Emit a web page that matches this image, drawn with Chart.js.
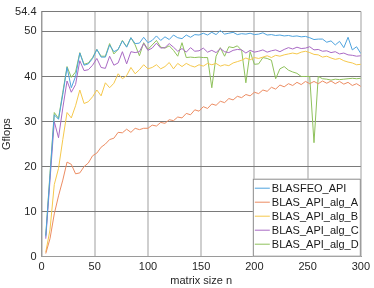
<!DOCTYPE html>
<html>
<head>
<meta charset="utf-8">
<script src="https://cdn.jsdelivr.net/npm/chart.js@4.4.1/dist/chart.umd.min.js"></script>
<style>
  html, body { margin: 0; padding: 0; background: #fff; }
  #wrap { width: 374px; height: 288px; }
</style>
</head>
<body>
<div id="wrap"><canvas id="chart" width="374" height="288"></canvas></div>
<script>
// matrix sizes (x axis)
const sizes = [4, 8, 12, 16, 20, 24, 28, 32, 36, 40, 44, 48, 52, 56, 60, 64, 68, 72, 76, 80,
  84, 88, 92, 96, 100, 104, 108, 112, 116, 120, 124, 128, 132, 136, 140, 144, 148, 152, 156, 160,
  164, 168, 172, 176, 180, 184, 188, 192, 196, 200, 204, 208, 212, 216, 220, 224, 228, 232, 236, 240,
  244, 248, 252, 256, 260, 264, 268, 272, 276, 280, 284, 288, 292, 296, 300];

// Gflops per series
const blasfeoApi = [4.5, 18, 31.5, 30.5, 36, 42, 37.5, 40, 45.2, 42.5, 42.8, 44, 46, 44.3, 44.3, 47, 45.5, 46, 47.9, 46.5,
  48.6, 47.3, 47.4, 48.7, 47.5, 48, 49, 48, 48.8, 48.2, 49.2, 48.6, 48.4, 49.2, 48.7, 49.3, 49.2, 49.6, 49.2, 49.8,
  49.3, 50.2, 49.4, 49.6, 49.8, 49.3, 49.5, 49.4, 49.6, 49.3, 49.4, 49.7, 49.2, 49.3, 49.1, 49.2, 49.0, 49.1, 48.9, 49.0,
  48.8, 48.9, 48.6, 48.2, 48.3, 48.3, 47.6, 47.9, 47.0, 47.8, 46.4, 48.7, 45.9, 46.6, 45.1];
const algA = [0.7, 4, 9.5, 13.5, 17, 21, 20.5, 18.4, 18.6, 20, 20.8, 22.4, 23, 24.3, 25, 26, 26.3, 27.6, 27.5, 28.3,
  27.6, 28.5, 28.2, 28.5, 28.5, 29.2, 29, 29.8, 29.6, 30.4, 30.2, 31, 30.8, 31.8, 31.5, 32.6, 32.3, 33.3, 32.9, 33.9,
  33.6, 34.5, 34.2, 35.1, 34.8, 35.6, 35.3, 36.0, 35.7, 36.5, 36.2, 37.0, 36.7, 37.6, 37.2, 38.1, 37.7, 38.4, 38.0, 38.7,
  38.2, 38.9, 38.4, 38.9, 38.4, 39.0, 38.5, 39.0, 38.4, 38.9, 38.3, 38.7, 38.0, 38.4, 37.8];
const algB = [1, 6, 16, 19.6, 26, 32, 30.8, 33.5, 37, 34, 34.4, 35.5, 37, 35.7, 38.6, 37.5, 38.5, 40.6, 39.5, 40.2,
  42, 40.6, 41.5, 42.6, 41.7, 42, 42.6, 41.7, 42.2, 43.1, 41.7, 42.9, 42.2, 42.9, 42.4, 42.1, 42.6, 42.3, 42.9, 42.6,
  42.9, 42.3, 42.6, 42.4, 43.0, 43.3, 43.6, 44.1, 43.7, 44.2, 44.0, 44.3, 44.6, 44.2, 44.7, 44.5, 44.8, 45.0, 45.2, 45.0,
  45.4, 45.6, 45.3, 44.9, 44.8, 44.3, 44.5, 44.1, 43.8, 44.0, 43.5, 43.2, 43.0, 42.6, 42.7];
const algC = [4, 17, 30, 26.4, 33, 39, 36.5, 38.2, 43.5, 41.3, 41.5, 42.5, 44, 42, 41.8, 44.5, 42.5, 43, 45.5, 42.8,
  45.5, 45.3, 45.5, 47.3, 45.8, 46.3, 47.4, 46.3, 46.4, 47.3, 46.5, 45.6, 46.2, 45.4, 46.4, 45.6, 45.7, 46.3, 45.4, 45.8,
  45.3, 46.2, 45.5, 45.3, 45.8, 46.0, 45.9, 45.2, 45.8, 45.4, 45.6, 45.9, 45.4, 45.7, 45.9, 45.5, 46.0, 46.4, 46.1, 46.5,
  46.2, 46.3, 46.6, 45.9, 46.0, 45.6, 45.7, 45.3, 45.5, 45.0, 45.2, 44.8, 44.7, 44.5, 44.6];
const algD = [4.8, 18.5, 32, 30.7, 36.5, 42.2, 39.8, 41, 45.3, 42.7, 43, 44.2, 46, 44.5, 44.5, 47.3, 45, 46, 48, 46.6,
  48.6, 47, 44.6, 47.5, 46, 47, 48, 46.5, 46.3, 46.8, 45.8, 44.5, 47.5, 44.2, 44.3, 44.2, 44.3, 44.2, 44.2, 37.5,
  44.5, 46.4, 44.5, 46.6, 46.4, 46.8, 45.8, 38.6, 45.5, 42.7, 42.8, 44.2, 44.0, 43.6, 39.5, 41.7, 42.2, 41.4, 41.0, 40.7,
  40.0, 40.0, 40.0, 25.3, 40.0, 39.5, 39.4, 39.2, 39.4, 39.3, 39.4, 39.5, 39.6, 39.5, 39.6];

const seriesNames = ['BLASFEO_API', 'BLAS_API_alg_A', 'BLAS_API_alg_B', 'BLAS_API_alg_C', 'BLAS_API_alg_D'];
const seriesValues = [blasfeoApi, algA, algB, algC, algD];
const seriesColors = ['#4ea3de', '#ec8c62', '#f5c84c', '#a96ac4', '#8fc15c'];

const yTicks = [0, 10, 20, 30, 40, 50, 54.4];

Chart.defaults.font.family = "'Liberation Sans', Arial, sans-serif";
Chart.defaults.font.size = 11;
Chart.defaults.color = '#262626';

// legend box drawn inside the plot, bottom right
const boxLegend = {
  id: 'boxLegend',
  afterDraw(chart) {
    const ctx = chart.ctx;
    const area = chart.chartArea;
    const w = 108, h = 78;
    const x0 = area.right - w, y0 = area.bottom - h;
    ctx.save();
    ctx.fillStyle = '#fff';
    ctx.fillRect(x0, y0, w, h);
    ctx.strokeStyle = '#8a8a8a';
    ctx.lineWidth = 1;
    ctx.strokeRect(x0 + 0.5, y0 + 0.5, w - 1, h - 1);
    ctx.font = "11px 'Liberation Sans', Arial, sans-serif";
    ctx.textBaseline = 'middle';
    ctx.textAlign = 'left';
    seriesNames.forEach((name, i) => {
      const y = y0 + 9.5 + i * 14;
      ctx.strokeStyle = seriesColors[i];
      ctx.beginPath();
      ctx.moveTo(x0 + 2, y);
      ctx.lineTo(x0 + 17, y);
      ctx.stroke();
      ctx.fillStyle = '#1a1a1a';
      ctx.fillText(name, x0 + 19, y + 0.5);
    });
    ctx.restore();
  }
};

const datasets = seriesNames.map((name, i) => ({
  label: name,
  data: sizes.map((n, k) => ({ x: n, y: seriesValues[i][k] })),
  borderColor: seriesColors[i],
  borderWidth: 1,
  pointRadius: 0,
  tension: 0,
  fill: false
}));

new Chart(document.getElementById('chart'), {
  type: 'line',
  data: { datasets: datasets },
  options: {
    responsive: false,
    animation: false,
    layout: { padding: { top: 2, right: 10.5, left: 0, bottom: 0 } },
    plugins: { legend: { display: false }, tooltip: { enabled: false } },
    scales: {
      x: {
        type: 'linear',
        min: 0,
        max: 300,
        ticks: { stepSize: 50, padding: 4, maxRotation: 0 },
        grid: { color: '#cfcfcf', lineWidth: 2, drawTicks: false },
        border: { color: '#9a9a9a' },
        title: { display: true, text: 'matrix size n', padding: { top: 0, bottom: 0 } },
        afterFit(scale) { scale.height = 31.3; }
      },
      y: {
        min: 0,
        max: 54.4,
        afterBuildTicks(scale) { scale.ticks = yTicks.map(v => ({ value: v })); },
        ticks: { padding: 5, callback: v => String(v) },
        grid: { color: '#7a7a7a', lineWidth: 1, drawTicks: false },
        border: { color: '#9a9a9a' },
        title: { display: true, text: 'Gflops', padding: { top: 0, bottom: 0 } },
        afterFit(scale) { scale.width = 41.5; }
      }
    }
  },
  plugins: [boxLegend]
});
</script>
</body>
</html>
